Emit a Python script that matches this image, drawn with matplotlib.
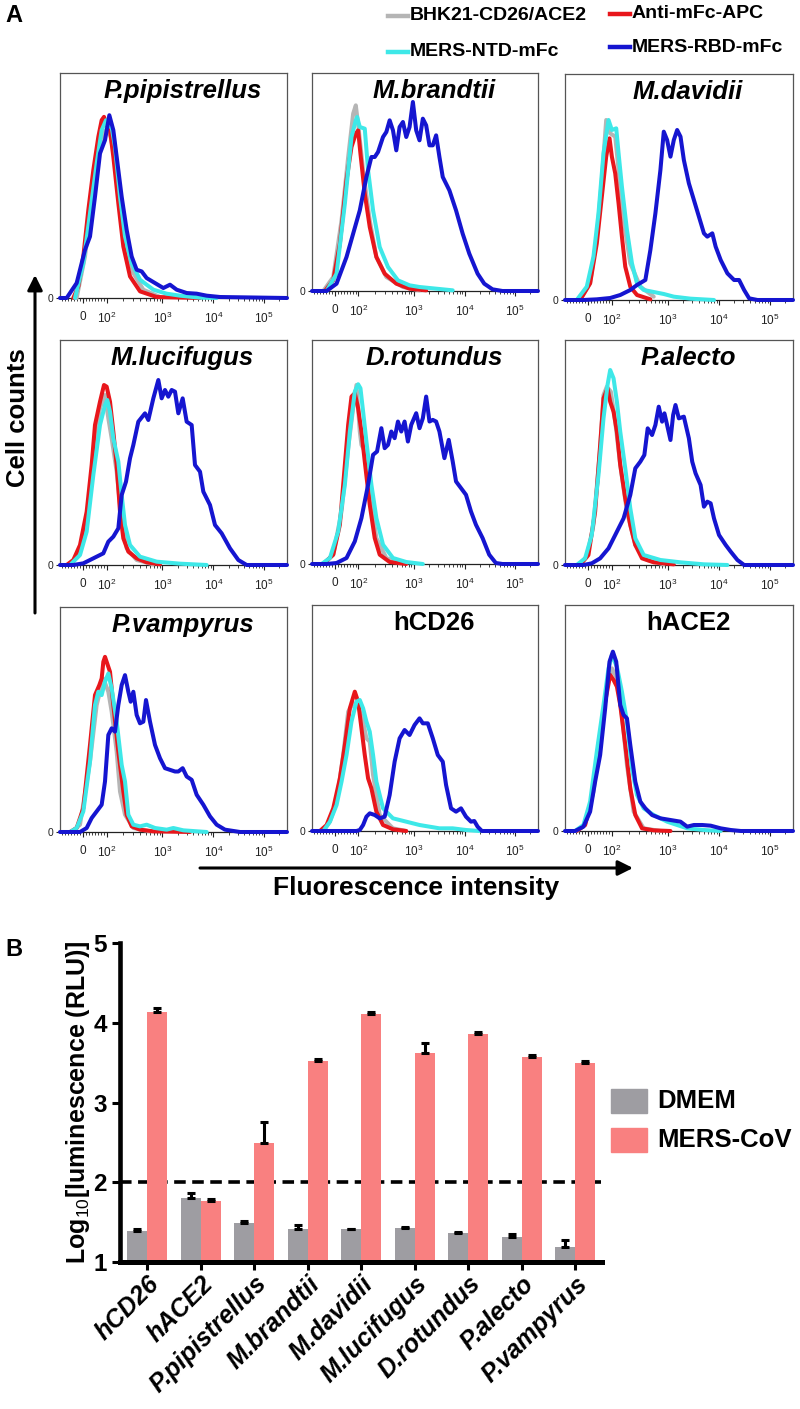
import numpy as np
import matplotlib
matplotlib.use("Agg")
import matplotlib.pyplot as plt
from matplotlib.lines import Line2D
from matplotlib.patches import FancyArrowPatch, Rectangle

plt.rcParams['font.family'] = ['Liberation Sans', 'DejaVu Sans']
plt.rcParams['mathtext.fontset'] = 'custom'
plt.rcParams['mathtext.rm'] = 'Liberation Sans'
plt.rcParams['mathtext.it'] = 'Liberation Sans:italic'
plt.rcParams['mathtext.bf'] = 'Liberation Sans:bold'

W, H = 800, 1409

# ---------------- panel A : flow histograms ----------------
# x = display channel (0..681 across a panel), y = cell counts
tick_channels = [68, 140, 307, 460, 612]
tick_labels = ['0', '$10^2$', '$10^3$', '$10^4$', '$10^5$']

panel_titles = ['P.pipistrellus', 'M.brandtii', 'M.davidii',
                'M.lucifugus', 'D.rotundus', 'P.alecto',
                'P.vampyrus', 'hCD26', 'hACE2']
panel_italic = [True, True, True, True, True, True, True, False, False]
panel_ymax = [677, 654, 678, 675, 673, 675, 677, 678, 678]

pipistrellus = {
    'gray': ([50, 75, 95, 115, 130, 142, 152, 165, 180, 200, 220, 250, 300],
             [0, 125, 285, 425, 495, 510, 485, 415, 285, 145, 75, 25, 3]),
    'red': ([40, 55, 70, 85, 100, 115, 125, 132, 140, 150, 160, 175, 190, 210, 240, 290, 420],
            [0, 35, 125, 265, 385, 485, 535, 545, 520, 505, 425, 285, 155, 65, 20, 3, 0]),
    'cyan': ([45, 70, 90, 110, 125, 138, 145, 153, 165, 180, 195, 215, 240, 280, 320, 360, 420, 470],
             [0, 105, 255, 405, 505, 535, 515, 525, 455, 305, 185, 105, 55, 25, 13, 7, 1, 0]),
    'blue': ([0, 20, 50, 75, 90, 105, 120, 135, 148, 160, 170, 185, 200, 215, 230, 245, 260, 285,
              310, 330, 350, 380, 410, 440, 480, 681],
             [0, 0, 45, 145, 185, 305, 435, 475, 550, 505, 425, 305, 205, 125, 85, 80, 60, 45,
              30, 40, 25, 15, 13, 7, 3, 0]),
}
brandtii = {
    'gray': ([34, 64, 89, 109, 124, 132, 140, 154, 174, 194, 224, 274, 324],
             [0, 42, 212, 402, 532, 557, 492, 362, 212, 102, 42, 12, 2]),
    'red': ([39, 64, 84, 104, 119, 132, 139, 146, 159, 174, 194, 219, 254, 294, 344],
            [0, 32, 142, 332, 432, 472, 482, 412, 292, 192, 102, 52, 22, 7, 2]),
    'cyan': ([44, 74, 99, 119, 132, 136, 144, 159, 169, 184, 204, 229, 259, 294, 324, 374, 424],
             [0, 52, 262, 462, 512, 522, 492, 487, 362, 242, 132, 72, 32, 17, 12, 7, 2]),
    'blue': ([0, 44, 74, 104, 124, 144, 164, 179, 189, 199, 214, 224, 234, 244, 254, 264, 274, 284,
              294, 304, 314, 324, 334, 344, 354, 364, 374, 384, 394, 414, 434, 454, 474, 499, 519,
              544, 574, 681],
             [0, 0, 22, 102, 172, 242, 342, 402, 402, 417, 462, 477, 512, 482, 422, 492, 507, 462,
              492, 567, 482, 452, 517, 497, 437, 437, 467, 402, 342, 302, 242, 172, 112, 52, 22,
              5, 0, 0]),
}
davidii = {
    'gray': ([45, 75, 95, 110, 123, 135, 150, 160, 175, 195, 225, 265],
             [0, 50, 190, 360, 540, 500, 490, 390, 240, 110, 40, 10]),
    'red': ([45, 75, 95, 110, 123, 133, 140, 150, 160, 170, 180, 195, 215, 255],
            [0, 50, 170, 310, 430, 485, 430, 380, 290, 190, 100, 40, 15, 2]),
    'cyan': ([35, 65, 85, 100, 115, 130, 140, 153, 160, 170, 185, 200, 215, 235, 275, 295, 325, 375, 445],
             [0, 40, 130, 260, 440, 540, 510, 515, 440, 340, 210, 110, 50, 30, 22, 18, 10, 4, 0]),
    'blue': ([0, 55, 95, 135, 165, 195, 215, 240, 255, 270, 285, 295, 305, 315, 325, 335, 345, 355,
              370, 385, 400, 415, 425, 440, 450, 465, 485, 505, 520, 535, 550, 575, 681],
             [0, 0, 2, 6, 15, 30, 45, 60, 150, 260, 390, 505, 480, 430, 480, 510, 490, 420,
              350, 300, 250, 200, 190, 200, 160, 120, 80, 60, 60, 30, 5, 0, 0]),
}
lucifugus = {
    'gray': ([25, 55, 80, 100, 120, 135, 145, 155, 170, 185, 200, 230, 280],
             [0, 30, 120, 320, 470, 510, 440, 380, 280, 130, 50, 15, 2]),
    'red': ([20, 40, 60, 80, 95, 105, 120, 132, 140, 150, 160, 170, 180, 190, 205, 230, 260, 300],
            [0, 15, 60, 160, 300, 420, 490, 540, 535, 490, 400, 300, 160, 80, 40, 20, 8, 2]),
    'cyan': ([30, 60, 80, 100, 120, 135, 142, 150, 160, 175, 185, 195, 210, 240, 290, 360, 440],
             [0, 30, 100, 270, 420, 480, 495, 460, 380, 310, 210, 120, 60, 25, 10, 4, 0]),
    'blue': ([0, 40, 70, 100, 130, 145, 160, 175, 185, 198, 210, 220, 235, 255, 265, 280, 295, 305,
              315, 325, 335, 345, 355, 368, 380, 395, 405, 420, 430, 450, 465, 485, 510, 535, 560, 681],
             [0, 0, 5, 20, 35, 70, 85, 110, 210, 250, 320, 360, 430, 455, 435, 500, 555, 500,
              525, 505, 525, 520, 455, 500, 430, 420, 300, 280, 220, 180, 120, 95, 50, 15, 0, 0]),
}
rotundus = {
    'gray': ([34, 64, 89, 109, 124, 134, 144, 149, 159, 174, 194, 224, 264],
             [0, 28, 158, 348, 468, 538, 398, 358, 338, 218, 78, 18, 3]),
    'red': ([34, 64, 84, 99, 109, 119, 129, 139, 149, 159, 174, 189, 204, 234, 284],
            [0, 28, 118, 298, 418, 503, 513, 468, 398, 308, 178, 78, 28, 6, 0]),
    'cyan': ([29, 54, 79, 99, 114, 129, 139, 146, 154, 164, 179, 194, 214, 244, 284, 334],
             [0, 18, 98, 238, 398, 518, 540, 528, 458, 368, 238, 138, 58, 18, 6, 0]),
    'blue': ([0, 44, 74, 104, 129, 149, 169, 184, 196, 209, 219, 229, 239, 249, 259, 269, 279, 289,
              299, 314, 324, 334, 344, 354, 364, 374, 384, 399, 412, 424, 434, 449, 464, 479, 494,
              514, 534, 554, 574, 681],
             [0, 0, 3, 18, 68, 138, 238, 328, 338, 408, 348, 358, 398, 378, 428, 398, 428, 368,
              418, 453, 408, 438, 503, 428, 433, 428, 398, 318, 373, 308, 248, 228, 208, 158, 118,
              78, 28, 3, 0, 0]),
}
alecto = {
    'gray': ([40, 65, 85, 105, 115, 125, 137, 150, 165, 185, 210, 245, 295],
             [0, 25, 120, 350, 510, 535, 520, 430, 300, 160, 60, 15, 2]),
    'red': ([45, 70, 90, 105, 115, 127, 135, 145, 155, 165, 180, 195, 210, 230, 265, 325],
            [0, 30, 160, 360, 500, 530, 490, 460, 400, 300, 200, 120, 60, 20, 8, 2]),
    'cyan': ([35, 60, 80, 100, 115, 127, 135, 145, 155, 165, 180, 195, 210, 235, 285, 345, 415, 485],
             [0, 20, 90, 270, 440, 540, 585, 560, 490, 400, 290, 170, 80, 30, 15, 8, 2, 0]),
    'blue': ([0, 55, 80, 105, 130, 155, 175, 195, 210, 225, 237, 247, 260, 270, 280, 290, 297, 305,
              315, 323, 330, 340, 355, 370, 380, 390, 405, 415, 425, 435, 445, 460, 480, 495, 515,
              535, 681],
             [0, 0, 5, 20, 50, 100, 140, 210, 290, 310, 330, 410, 390, 420, 475, 430, 455, 420,
              375, 450, 480, 440, 445, 380, 310, 275, 240, 175, 190, 185, 140, 90, 60, 40, 15,
              0, 0]),
}
vampyrus = {
    'gray': ([35, 60, 90, 110, 130, 145, 155, 170, 180, 195, 220, 270],
             [0, 22, 212, 382, 462, 422, 362, 242, 122, 52, 12, 2]),
    'red': ([30, 50, 70, 90, 105, 118, 125, 130, 135, 140, 150, 160, 175, 190, 200, 215, 240, 280, 340, 390],
            [0, 12, 72, 262, 412, 442, 462, 512, 527, 512, 482, 382, 242, 122, 52, 17, 7, 2, 1, 0]),
    'cyan': ([30, 50, 70, 90, 105, 115, 125, 135, 145, 155, 170, 185, 195, 205, 220, 240, 260, 285,
              320, 340, 370, 440],
             [0, 12, 62, 212, 382, 422, 412, 452, 477, 432, 332, 202, 152, 52, 22, 17, 22, 12,
              7, 12, 5, 0]),
    'blue': ([0, 60, 80, 95, 110, 125, 135, 145, 155, 165, 175, 185, 195, 205, 212, 220, 230, 240,
              250, 258, 270, 285, 300, 315, 330, 345, 355, 368, 380, 395, 410, 430, 450, 470, 495,
              540, 681],
             [0, 0, 12, 42, 62, 82, 152, 292, 312, 302, 382, 442, 472, 422, 392, 422, 352, 327,
              332, 397, 332, 262, 222, 192, 187, 182, 182, 192, 167, 157, 112, 82, 47, 22, 7,
              0, 0]),
}
hcd26 = {
    'gray': ([34, 54, 74, 94, 109, 124, 139, 154, 164, 174, 184, 204, 244, 284],
             [0, 28, 88, 228, 358, 383, 378, 328, 278, 268, 168, 48, 8, 0]),
    'red': ([24, 44, 64, 84, 99, 114, 129, 139, 149, 159, 169, 179, 194, 214, 244, 284],
            [0, 18, 68, 158, 258, 368, 418, 388, 308, 228, 158, 128, 58, 18, 5, 0]),
    'cyan': ([34, 54, 74, 89, 104, 119, 134, 144, 154, 164, 174, 184, 194, 214, 244, 284, 324, 384,
              424, 464, 504],
             [0, 28, 78, 148, 228, 328, 388, 393, 368, 328, 298, 228, 148, 68, 38, 28, 18, 8,
              8, 3, 0]),
    'blue': ([0, 134, 144, 154, 164, 174, 189, 204, 219, 234, 249, 264, 279, 294, 309, 324, 334, 349,
              364, 379, 394, 404, 419, 434, 449, 464, 479, 489, 499, 512, 681],
             [0, 0, 3, 18, 43, 53, 48, 38, 43, 108, 208, 278, 303, 288, 318, 338, 323, 323,
              278, 228, 208, 138, 68, 58, 68, 43, 28, 30, 13, 0, 0]),
}
hace2 = {
    'gray': ([35, 60, 85, 105, 125, 140, 155, 170, 185, 205, 235, 285],
             [0, 18, 118, 278, 428, 488, 458, 348, 198, 58, 8, 0]),
    'red': ([35, 60, 80, 100, 120, 135, 145, 155, 165, 180, 195, 210, 230, 265, 315],
            [0, 18, 98, 258, 388, 468, 453, 433, 378, 258, 128, 48, 8, 2, 0]),
    'cyan': ([30, 55, 75, 95, 115, 130, 140, 155, 170, 185, 200, 215, 235, 265, 305, 335, 365, 415, 465],
             [0, 18, 88, 238, 378, 488, 528, 493, 418, 328, 188, 108, 68, 48, 28, 18, 8, 3, 0]),
    'blue': ([0, 30, 55, 75, 90, 105, 120, 133, 143, 153, 165, 175, 185, 195, 210, 225, 240, 260,
              285, 315, 345, 365, 385, 410, 435, 465, 495, 525, 681],
             [0, 0, 13, 58, 148, 228, 368, 508, 538, 508, 378, 348, 338, 258, 148, 88, 68, 48,
              38, 33, 28, 13, 18, 18, 16, 8, 3, 0, 0]),
}
panel_data = [pipistrellus, brandtii, davidii, lucifugus, rotundus, alecto,
              vampyrus, hcd26, hace2]

series_order = ['gray', 'red', 'cyan', 'blue']
series_colors = {'gray': '#b5b5b5', 'red': '#e8161b', 'cyan': '#3ee8e8', 'blue': '#1515d0'}
legend_labels = {'gray': 'BHK21-CD26/ACE2', 'red': 'Anti-mFc-APC',
                 'cyan': 'MERS-NTD-mFc', 'blue': 'MERS-RBD-mFc'}

# ---------------- panel B : luciferase ----------------
cells = ['hCD26', 'hACE2', 'P.pipistrellus', 'M.brandtii', 'M.davidii',
         'M.lucifugus', 'D.rotundus', 'P.alecto', 'P.vampyrus']
dmem_mean = [1.39, 1.80, 1.49, 1.42, 1.41, 1.43, 1.36, 1.31, 1.19]
dmem_err = [0.02, 0.07, 0.02, 0.05, 0.01, 0.01, 0.01, 0.04, 0.09]
mers_mean = [4.14, 1.76, 2.49, 3.52, 4.11, 3.62, 3.86, 3.57, 3.50]
mers_err = [0.05, 0.03, 0.27, 0.03, 0.02, 0.13, 0.02, 0.02, 0.02]
cutoff = 2


def rect(l, t, r, b):
    return [l / W, 1 - b / H, (r - l) / W, (b - t) / H]


def fx(x):
    return x / W


def fy(y):
    return 1 - y / H


fig = plt.figure(figsize=(W / 100, H / 100), dpi=100)

panel_boxes = [(60, 73, 287, 298), (312, 73, 538, 291), (565, 74, 793, 300),
               (60, 340, 287, 565), (312, 340, 538, 564), (565, 340, 793, 565),
               (60, 607, 287, 832), (312, 605, 538, 831), (565, 605, 793, 831)]

# minor ticks of the biexponential axis
dec = tick_channels[1:] + [tick_channels[-1] + 152]
minor = list(np.arange(6, 136, 9))
for i in range(len(dec) - 1):
    for k in range(2, 10):
        m = dec[i] + np.log10(k) * (dec[i + 1] - dec[i])
        if m < 681:
            minor.append(m)

for i, box in enumerate(panel_boxes):
    ax = fig.add_axes(rect(*box))
    data = panel_data[i]
    for s in series_order:
        xs, ys = data[s]
        ax.plot(xs, ys, color=series_colors[s], lw=2.9, solid_joinstyle='round',
                solid_capstyle='round', clip_on=False, zorder=3)
    ax.set_xlim(0, 681)
    ax.set_ylim(0, panel_ymax[i])
    for sp in ax.spines.values():
        sp.set_color('#555555')
        sp.set_linewidth(0.9)
    ax.spines['bottom'].set_color('#222222')
    ax.set_xticks(tick_channels)
    ax.set_xticklabels(tick_labels)
    ax.set_xticks(minor, minor=True)
    ax.tick_params(axis='x', which='major', length=3.5, width=0.8, labelsize=8.5, pad=6,
                   colors='#222222')
    ax.tick_params(axis='x', which='minor', length=2, width=0.6, colors='#222222')
    ax.set_yticks([0])
    ax.set_yticklabels(['0'])
    ax.tick_params(axis='y', length=3, width=0.8, labelsize=7.5, pad=2, colors='#222222')
    h_px = box[3] - box[1]
    ax.text(0.54, 1 - 18 / h_px, panel_titles[i], transform=ax.transAxes,
            ha='center', va='center', fontsize=18.5, fontweight='bold',
            fontstyle='italic' if panel_italic[i] else 'normal')

# panel A legend
leg_pos = {'gray': (388, 16), 'red': (610, 14), 'cyan': (388, 52), 'blue': (610, 47)}
for s in series_order:
    x0, y0 = leg_pos[s]
    fig.add_artist(Line2D([fx(x0), fx(x0 + 20)], [fy(y0), fy(y0)],
                          color=series_colors[s], lw=3.2))
    fig.text(fx(x0 + 22), fy(y0), legend_labels[s], ha='left', va='center',
             fontsize=14, fontweight='bold')

fig.text(fx(5), fy(15), 'A', ha='left', va='center', fontsize=17, fontweight='bold')
fig.text(fx(5), fy(949), 'B', ha='left', va='center', fontsize=17, fontweight='bold')

# axis arrows of panel A
fig.add_artist(FancyArrowPatch((fx(35), fy(613)), (fx(35), fy(275)),
                               transform=fig.transFigure, arrowstyle='-|>,head_length=9,head_width=4.5',
                               lw=2.2, color='black', shrinkA=0, shrinkB=0))
fig.text(fx(18), fy(418), 'Cell counts', rotation=90, ha='center', va='center',
         fontsize=18.5, fontweight='bold')
fig.add_artist(FancyArrowPatch((fx(200), fy(868)), (fx(633), fy(868)),
                               transform=fig.transFigure, arrowstyle='-|>,head_length=9,head_width=4.5',
                               lw=2.2, color='black', shrinkA=0, shrinkB=0))
fig.text(fx(416), fy(888), 'Fluorescence intensity', ha='center', va='center',
         fontsize=19, fontweight='bold')

# ---------------- panel B drawing ----------------
axb = fig.add_axes(rect(120, 943, 602, 1262))
x = np.arange(len(cells))
bw = 0.37
gray_b = '#9e9da2'
red_b = '#f98080'
axb.axhline(cutoff, color='black', lw=2.6, ls=(0, (3.2, 1.8)), zorder=1)
axb.bar(x - bw / 2, dmem_mean, bw, color=gray_b, zorder=2)
axb.bar(x + bw / 2, mers_mean, bw, color=red_b, zorder=2)
axb.errorbar(x - bw / 2, dmem_mean, yerr=[np.zeros(len(x)), dmem_err], fmt='none',
             ecolor='black', elinewidth=2.2, capsize=3.2, capthick=2.2, zorder=3)
axb.errorbar(x + bw / 2, mers_mean, yerr=[np.zeros(len(x)), mers_err], fmt='none',
             ecolor='black', elinewidth=2.2, capsize=3.2, capthick=2.2, zorder=3)
axb.set_xlim(-0.51, 8.5)
axb.set_ylim(1, 5)
axb.set_yticks([1, 2, 3, 4, 5])
axb.spines['top'].set_visible(False)
axb.spines['right'].set_visible(False)
axb.spines['left'].set_linewidth(3.3)
axb.spines['bottom'].set_linewidth(3.6)
axb.tick_params(axis='both', length=6, width=2.2, labelsize=17.5)
for lbl in axb.get_yticklabels():
    lbl.set_fontweight('bold')
axb.set_xticks(x)
axb.set_xticklabels(cells, rotation=45, ha='right', rotation_mode='anchor',
                    fontsize=18, fontweight='bold', fontstyle='italic')
axb.tick_params(axis='x', pad=1)
axb.set_ylabel('Log$_{10}$[luminescence (RLU)]', fontsize=18, fontweight='bold')
axb.yaxis.set_label_coords(-0.058, 0.5)

# panel B legend
for (lab, col, yc) in [('DMEM', gray_b, 1101), ('MERS-CoV', red_b, 1140)]:
    fig.add_artist(Rectangle((fx(611), fy(yc + 12)), 36 / W, 24 / H,
                             transform=fig.transFigure, color=col))
    fig.text(fx(657), fy(yc), lab, ha='left', va='center', fontsize=18.5, fontweight='bold')

fig.savefig('out.png', dpi=100)
